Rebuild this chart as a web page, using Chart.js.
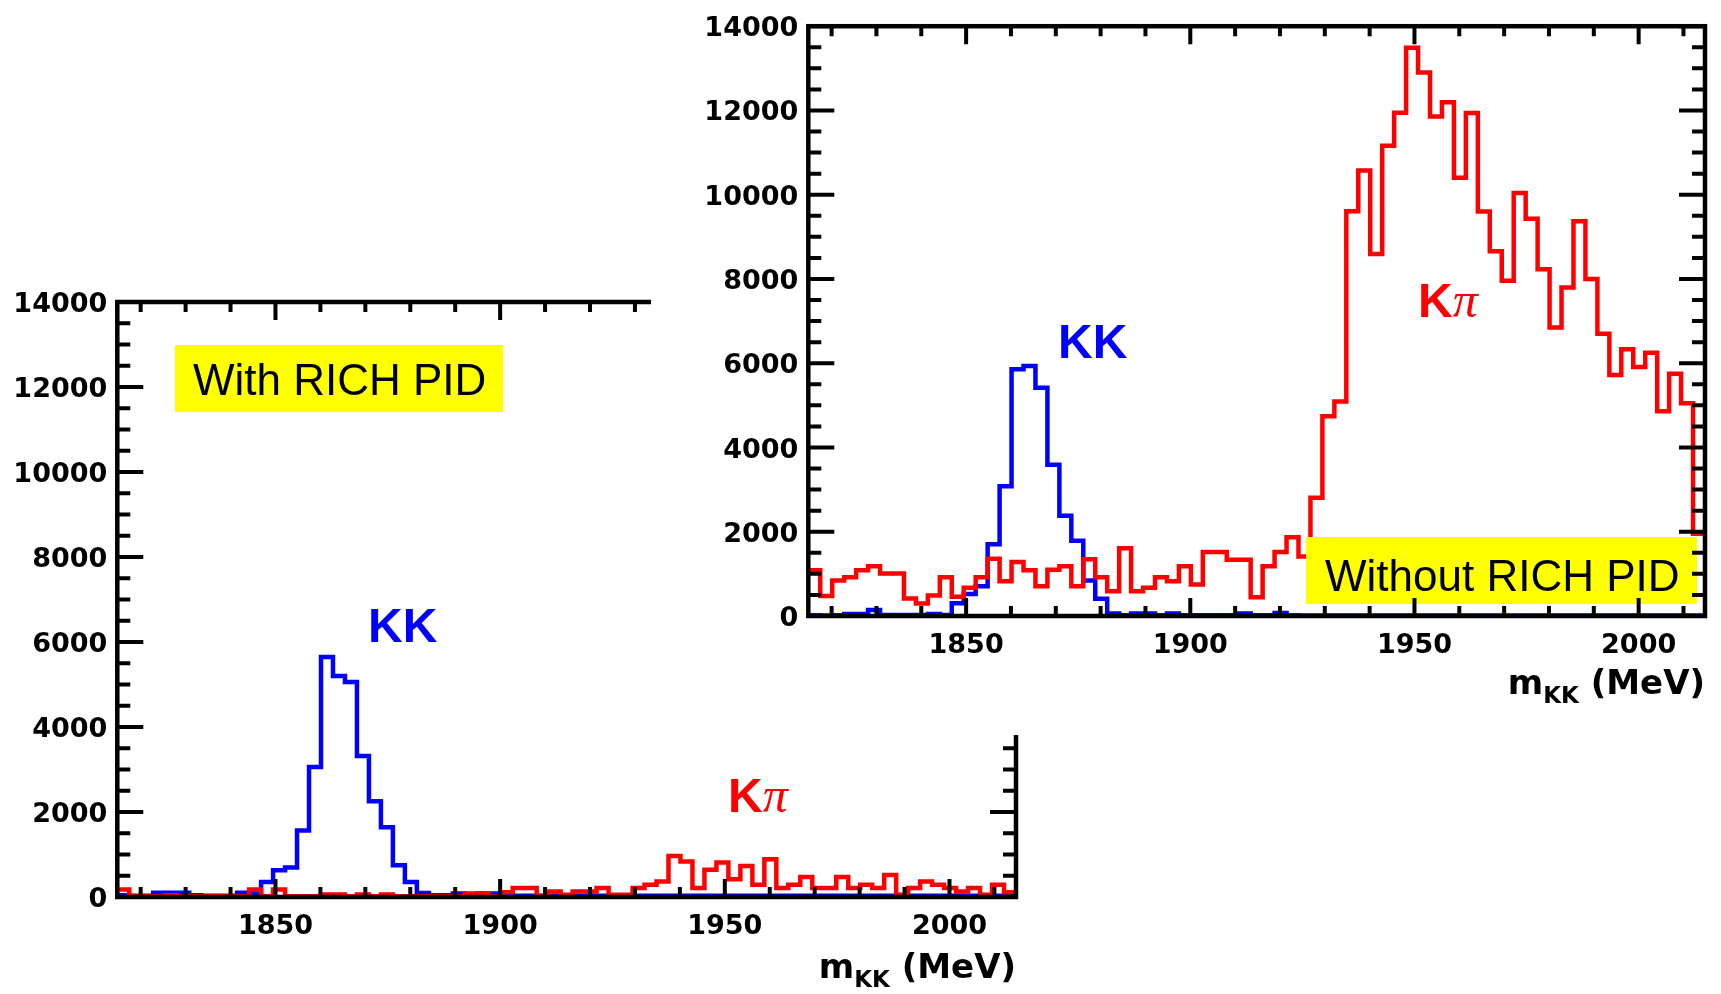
<!DOCTYPE html>
<html><head><meta charset="utf-8">
<script src="https://cdn.jsdelivr.net/npm/chart.js@4.4.1/dist/chart.umd.min.js"></script>
<style>
html,body{margin:0;padding:0;background:#fff;width:1721px;height:994px;overflow:hidden;}
#wrapL{position:absolute;left:0;top:0;width:1721px;height:994px;}
#wrapR{position:absolute;left:651px;top:0;width:1070px;height:735px;background:#fff;}
canvas{display:block;}
</style></head><body>
<div id="wrapL"><canvas id="cL"></canvas></div>
<div id="wrapR"><canvas id="cR"></canvas></div>
<script>
// ---- axis ranges / tick labels ----
const xMin = 1814.8, xMax = 2014.8;            // m_KK axis range (MeV), 75 bins
const xTickLabels = [1850, 1900, 1950, 2000];
const yTickLabels = [0, 2000, 4000, 6000, 8000, 10000, 12000, 14000];

// ---- With RICH PID (left panel) ----
const withPID_KK = [40, 30, 30, 100, 100, 100, 40, 30, 30, 30,
  100, 100, 355, 630, 695, 1564, 3057, 5648, 5198, 5056,
  3318, 2251, 1643, 750, 355, 95, 40, 40, 80, 40,
  80, 80, 30, 30, 30, 30, 30, 30, 30, 30,
  30, 30, 30, 30, 30, 30, 30, 30, 30, 30,
  30, 30, 30, 30, 30, 30, 30, 30, 30, 30,
  30, 30, 30, 30, 30, 30, 30, 30, 30, 30,
  30, 30, 30, 30, 30];
const withPID_Kpi = [175, 15, 15, 15, 40, 15, 15, 15, 15, 15,
  15, 175, 15, 175, 15, 15, 15, 60, 60, 15,
  60, 15, 60, 15, 15, 15, 15, 15, 15, 80,
  80, 15, 110, 210, 210, 30, 130, 55, 130, 130,
  210, 55, 55, 210, 290, 365, 965, 835, 210, 640,
  810, 420, 730, 290, 890, 210, 290, 470, 210, 210,
  470, 210, 290, 210, 520, 55, 210, 365, 290, 210,
  130, 210, 55, 290, 110];

// ---- Without RICH PID (right panel) ----
const noPID_KK = [15, 10, 15, 50, 50, 140, 25, 25, 25, 25,
  50, 25, 300, 525, 707, 1705, 3080, 5855, 5935, 5420,
  3590, 2380, 1785, 840, 410, 60, 20, 60, 60, 20,
  60, 20, 15, 15, 15, 15, 60, 15, 15, 70,
  15, 10, 10, 10, 10, 10, 10, 10, 10, 10,
  10, 10, 10, 10, 10, 10, 10, 10, 10, 10,
  10, 10, 10, 10, 10, 10, 10, 10, 10, 10,
  10, 10, 10, 10, 10];
const noPID_Kpi = [1085, 472, 841, 920, 1085, 1179, 1006, 1006, 417, 299,
  487, 920, 456, 668, 920, 1360, 825, 1281, 1085, 707,
  1100, 1179, 707, 1350, 920, 590, 1611, 590, 668, 920,
  825, 1179, 747, 1517, 1517, 1336, 1336, 448, 1179, 1517,
  1871, 1415, 2806, 4740, 5090, 9610, 10573, 8593, 11160, 11944,
  13486, 12899, 11858, 12195, 10400, 11940, 9600, 8660, 7960, 10040,
  9430, 8230, 6850, 7800, 9370, 8000, 6700, 5720, 6330, 5910,
  6250, 4860, 5750, 5050, 1950];

// histogram -> step points at bin low edges (+ closing right edge)
function histPoints(counts) {
  const w = (xMax - xMin) / counts.length;
  const pts = counts.map((c, i) => ({x: xMin + i * w, y: c}));
  pts.push({x: xMax, y: counts[counts.length - 1]});
  return pts;
}

const TICKFONT = {family: '"DejaVu Sans", sans-serif', weight: 'bold', size: 27};

function decor(spec) {
  return {
    id: 'decor',
    afterDatasetsDraw(chart) {
      const {ctx, chartArea: a, scales: {x, y}} = chart;
      ctx.save();
      // yellow label box
      const b = spec.box;
      ctx.fillStyle = '#ffff00';
      ctx.fillRect(b.x, b.y, b.w, b.h);
      ctx.fillStyle = '#000';
      ctx.font = '44px "Liberation Sans", Arial, sans-serif';
      ctx.textAlign = 'left'; ctx.textBaseline = 'alphabetic';
      ctx.fillText(b.text, b.tx, b.ty);
      // inward ticks on all four sides
      ctx.strokeStyle = '#000'; ctx.lineWidth = 4; ctx.lineCap = 'butt';
      ctx.beginPath();
      for (let v = 1820; v <= 2010; v += 10) {
        const px = x.getPixelForValue(v);
        const len = (v % 50 === 0) ? 18 : 10;
        ctx.moveTo(px, a.bottom); ctx.lineTo(px, a.bottom - len);
        ctx.moveTo(px, a.top); ctx.lineTo(px, a.top + len);
      }
      for (let v = 0; v <= 14000; v += 500) {
        const py = y.getPixelForValue(v);
        const len = (v % 2000 === 0) ? 26 : 13;
        ctx.moveTo(a.left, py); ctx.lineTo(a.left + len, py);
        ctx.moveTo(a.right, py); ctx.lineTo(a.right - len, py);
      }
      ctx.stroke();
      ctx.lineWidth = 4.5; ctx.lineJoin = 'miter';
      ctx.strokeRect(a.left, a.top, a.right - a.left, a.bottom - a.top);
      // axis title m_KK (MeV)
      const base = a.bottom + spec.titleDy;
      ctx.fillStyle = '#000';
      ctx.font = 'bold 34px "DejaVu Sans", sans-serif';
      const wM = ctx.measureText('m').width, wR = ctx.measureText(' (MeV)').width;
      ctx.font = 'bold 23px "DejaVu Sans", sans-serif';
      const wK = ctx.measureText('KK').width;
      let xs = a.right - (wM + wK + wR);
      ctx.font = 'bold 34px "DejaVu Sans", sans-serif';
      ctx.fillText('m', xs, base);
      ctx.font = 'bold 23px "DejaVu Sans", sans-serif';
      ctx.fillText('KK', xs + wM, base + 9);
      ctx.font = 'bold 34px "DejaVu Sans", sans-serif';
      ctx.fillText(' (MeV)', xs + wM + wK, base);
      // KK label
      ctx.fillStyle = '#0000ff';
      ctx.font = 'bold 48px "Liberation Sans", Arial, sans-serif';
      ctx.fillText('KK', spec.kk[0], spec.kk[1]);
      // Kpi label
      ctx.fillStyle = '#ff0000';
      ctx.fillText('K', spec.kpi[0], spec.kpi[1]);
      const wKb = ctx.measureText('K').width;
      ctx.font = 'italic 50px "Liberation Serif", "Times New Roman", serif';
      ctx.fillText('\u03c0', spec.kpi[0] + wKb, spec.kpi[1]);
      ctx.restore();
    }
  };
}

function makeChart(id, kk, kpi, spec) {
  return new Chart(document.getElementById(id), {
    type: 'line',
    data: {datasets: [
      {label: 'K\u03c0', data: histPoints(kpi), borderColor: '#ff0000', borderWidth: 4.5,
       stepped: true, pointRadius: 0, fill: false, tension: 0},
      {label: 'KK', data: histPoints(kk), borderColor: '#0000ff', borderWidth: 4.5,
       stepped: true, pointRadius: 0, fill: false, tension: 0}
    ]},
    options: {
      responsive: true, maintainAspectRatio: false, animation: false,
      layout: {padding: spec.padding},
      plugins: {legend: {display: false}, tooltip: {enabled: false}},
      scales: {
        x: {type: 'linear', min: xMin, max: xMax,
            grid: {display: false, drawTicks: false}, border: {display: false},
            afterBuildTicks: s => { s.ticks = xTickLabels.map(v => ({value: v})); },
            afterFit: s => { s.height = spec.xh; },
            ticks: {font: TICKFONT, color: '#000', padding: spec.xpad, maxRotation: 0, autoSkip: false,
                    callback: v => String(v)}},
        y: {type: 'linear', min: 0, max: 14000,
            grid: {display: false, drawTicks: false}, border: {display: false},
            afterBuildTicks: s => { s.ticks = yTickLabels.map(v => ({value: v})); },
            afterFit: s => { s.width = spec.yw; },
            ticks: {font: TICKFONT, color: '#000', padding: 10, autoSkip: false, labelOffset: 3,
                    callback: v => String(v)}}
      }
    },
    plugins: [decor(spec)]
  });
}

makeChart('cL', withPID_KK, withPID_Kpi, {
  padding: {left: 0, right: 705, top: 302, bottom: 0}, yw: 117.3, xh: 97, xpad: 14,
  box: {x: 175, y: 345, w: 328, h: 67, text: 'With RICH PID', tx: 193, ty: 395},
  titleDy: 81, kk: [368, 642], kpi: [728, 812]
});
makeChart('cR', noPID_KK, noPID_Kpi, {
  padding: {left: 0, right: 16, top: 20, bottom: 0}, yw: 157.3, xh: 119, xpad: 14,
  box: {x: 1306 - 651, y: 537, w: 391, h: 67, text: 'Without RICH PID', tx: 1325 - 651, ty: 591},
  titleDy: 78, kk: [1058 - 651, 358], kpi: [1418 - 651, 317]
});
</script>
</body></html>
